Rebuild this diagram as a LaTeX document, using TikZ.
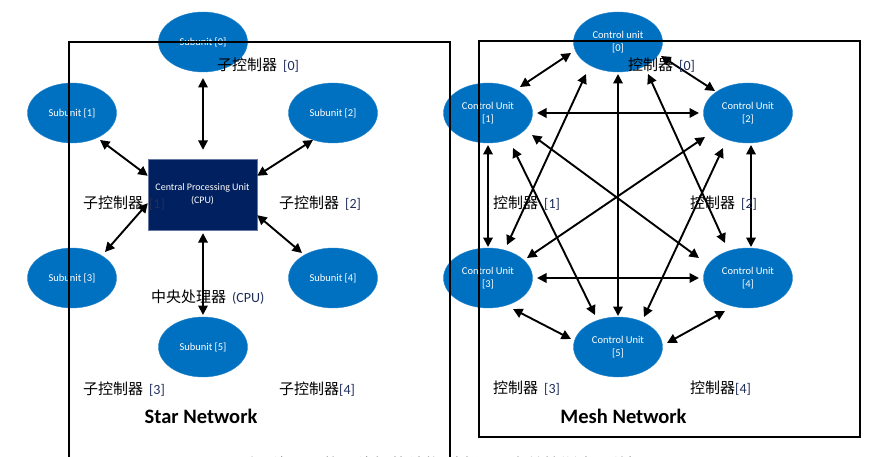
\documentclass[tikz,border=0pt]{standalone}
\usepackage{fontspec}
\setmainfont{Carlito}
\newfontfamily\cjk{Noto Sans CJK SC}
\usetikzlibrary{arrows.meta,calc,shapes.geometric}
\definecolor{unitblue}{HTML}{0070C0}
\definecolor{cpunavy}{HTML}{002060}
\definecolor{numcol}{HTML}{1F2D5A}
\newcommand{\mylab}[3][6pt]{{\cjk #2}\hspace{#1}{\color{numcol}\fontsize{14}{14}\selectfont #3}}
\begin{document}
\begin{tikzpicture}[x=1pt,y=-1pt,
 unit/.style={ellipse, fill=unitblue, draw=unitblue!85!white, minimum width=89pt, minimum height=60pt, inner sep=0pt, text=white, font=\fontsize{10.5}{13}\selectfont, align=center},
 cpubox/.style={rectangle, fill=cpunavy, draw=cpunavy!60!white, minimum width=109pt, minimum height=71pt, inner sep=0pt, text=white, font=\fontsize{10}{13}\selectfont, align=center},
 arr/.style={{Triangle[length=9.5pt,width=9.5pt]}-{Triangle[length=9.5pt,width=9.5pt]}, line width=1.9pt},
 lbl/.style={anchor=west, inner sep=0pt, font=\fontsize{15}{15}\selectfont},
 ttl/.style={font=\bfseries\fontsize{20.5}{20.5}\selectfont, inner sep=0pt},
 frame/.style={draw, line width=1.2pt}]
\useasboundingbox (0,0) rectangle (891,457);
\clip (0,0) rectangle (891,457);
% ---- star network ----
\node[unit] (s0) at (203,42) {Subunit [0]};
\node[unit] (s1) at (72,113) {Subunit [1]};
\node[unit] (s2) at (333,113) {Subunit [2]};
\node[unit] (s3) at (72,278) {Subunit [3]};
\node[unit] (s4) at (333,278) {Subunit [4]};
\node[unit] (s5) at (203,347) {Subunit [5]};
\node[cpubox] (cpu) at (202.5,194.5) {Central Processing Unit\\(CPU)};
\draw[arr] ($(s0)+(0,36)$) -- ($(cpu.north)+(0.5,-9)$);
\draw[arr] ($(s1)+(28,27)$) -- ($(cpu.north west)+(0,17)$);
\draw[arr] ($(s2)+(-20,27)$) -- ($(cpu.north east)+(0,17)$);
\draw[arr] ($(s3)+(33,-26)$) -- ($(cpu.south west)+(0,-27)$);
\draw[arr] ($(s4)+(-31,-25)$) -- ($(cpu.south east)+(0,-15)$);
\draw[arr] ($(s5)+(0,-32)$) -- ($(cpu.south)+(0.5,3)$);
% ---- mesh network ----
\node[unit] (c0) at (618,42) {Control unit\\{[0]}};
\node[unit] (c1) at (488,113) {Control Unit\\{[1]}};
\node[unit] (c2) at (748,113) {Control Unit\\{[2]}};
\node[unit] (c3) at (488,278) {Control Unit\\{[3]}};
\node[unit] (c4) at (748,278) {Control Unit\\{[4]}};
\node[unit] (c5) at (618,347) {Control Unit\\{[5]}};
\draw[arr] ($(c0)+(-47,11)$) -- ($(c1)+(32,-26)$);
\draw[arr] ($(c0)+(43,14)$) -- ($(c2)+(-33,-22)$);
\draw[arr] ($(c1)+(49,0)$) -- ($(c2)+(-49,0)$);
\draw[arr] ($(c0)+(0,32)$) -- ($(c5)+(0,-31)$);
\draw[arr] ($(c1)+(0,32)$) -- ($(c3)+(0,-31)$);
\draw[arr] ($(c2)+(3,32)$) -- ($(c4)+(3,-31)$);
\draw[arr] ($(c3)+(49,0)$) -- ($(c4)+(-49,0)$);
\draw[arr] ($(c3)+(25,31)$) -- ($(c5)+(-47,-8)$);
\draw[arr] ($(c4)+(-23,33)$) -- ($(c5)+(49,-4)$);
\draw[arr] ($(c0)+(-32,32)$) -- ($(c3)+(19,-33)$);
\draw[arr] ($(c0)+(30,32)$) -- ($(c4)+(-23,-35)$);
\draw[arr] ($(c1)+(44,22)$) -- ($(c4)+(-49,-20)$);
\draw[arr] ($(c2)+(-43,24)$) -- ($(c3)+(39,-20)$);
\draw[arr] ($(c1)+(25,35)$) -- ($(c5)+(-23,-32)$);
\draw[arr] ($(c2)+(-25,35)$) -- ($(c5)+(26,-30)$);
% ---- frames ----
\draw[frame] (69,470) -- (69,42) -- (450,42) -- (450,470);
\draw[frame] (479,41) rectangle (860,437);
% ---- labels ----
\node[lbl] (l0) at (217,65) {\mylab{子控制器}{[0]}};
\node[lbl] (l1) at (83,203) {\mylab{子控制器}{[1]}};
\node[lbl] (l2) at (279,203) {\mylab{子控制器}{[2]}};
\node[lbl] (l3) at (151,297) {\mylab{中央处理器}{(CPU)}};
\node[lbl] (l4) at (83,389) {\mylab{子控制器}{[3]}};
\node[lbl] (l5) at (279,389) {\mylab[0pt]{子控制器}{[4]}};
\node[lbl] (m0) at (628,65) {\mylab{控制器}{[0]}};
\node[lbl] (m1) at (493,203) {\mylab{控制器}{[1]}};
\node[lbl] (m2) at (690,203) {\mylab{控制器}{[2]}};
\node[lbl] (m3) at (493,388) {\mylab{控制器}{[3]}};
\node[lbl] (m4) at (690,388) {\mylab[0pt]{控制器}{[4]}};
\node[ttl] (t1) at (201,416) {Star Network};
\node[ttl] (t2) at (623.5,416) {Mesh Network};
\node[anchor=west, inner sep=0pt, font=\cjk\fontsize{17}{17}\selectfont] (cap) at (165,465) {图\hspace{8pt}2\hspace{21pt}星型网络与网状网络拓扑结构（来源：赛普拉斯半导体）};
\end{tikzpicture}
\end{document}
